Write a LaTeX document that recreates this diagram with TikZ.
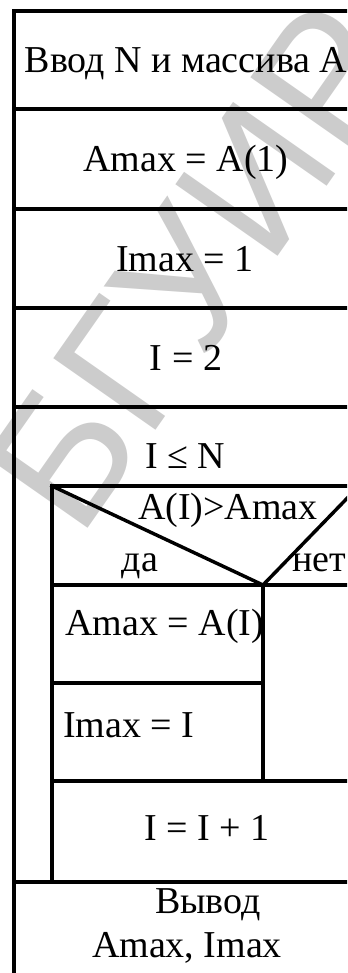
\documentclass[tikz,border=0pt]{standalone}
\usepackage{fontspec}
\setmainfont{Liberation Serif}
\newfontfamily\wmfont{Liberation Sans}
\usetikzlibrary{positioning}

\begin{document}
\begin{tikzpicture}[x=0.75pt, y=-0.75pt]
  \tikzstyle{txt} = [inner sep=0pt, anchor=base, font=\fontsize{28.5}{34}\selectfont]
  \tikzstyle{rule} = [line width=2.6pt, line cap=rect]
  \useasboundingbox (0,0) rectangle (347,973);
  \clip (0,0) rectangle (347,973);
  % watermark
  \node[rotate=55, text=black!20, inner sep=0pt,
        font=\wmfont\fontsize{136}{140}\selectfont] (wm) at (196,266) {БГУИР};
  % frame of the diagram
  \draw[rule] (14,11) -- (359,11);
  \foreach \y in {109,209,308,407,882}
    \draw[rule] (14,\y) -- (359,\y);
  \foreach \y in {486,585,781}
    \draw[rule] (52,\y) -- (359,\y);
  \draw[rule] (52,683) -- (263,683);
  \draw[rule] (14,11) -- (14,990);
  \draw[rule] (52,486) -- (52,882);
  \draw[rule] (263,585) -- (263,781);
  \draw[rule, line join=miter] (52,486) -- (263,585) -- (359,486);
  % texts
  \node[txt] (input) at (186,73) {Ввод N и массива A};
  \node[txt] (amax) at (186,172) {Amax = A(1)};
  \node[txt] (imax) at (185,272) {Imax = 1};
  \node[txt] (init) at (186,370) {I = 2};
  \node[txt] (loop) at (185,468) {I ≤ N};
  \node[txt] (cond) at (228,519) {A(I)>Amax};
  \node[txt] (yes) at (140,571) {да};
  \node[txt] (no) at (319,571) {нет};
  \node[txt, anchor=base west] (setamax) at (65,635) {Amax = A(I)};
  \node[txt, anchor=base west] (setimax) at (63,737) {Imax = I};
  \node[txt] (incr) at (207,840) {I = I + 1};
  \node[txt] (out) at (208,913) {Вывод};
  \node[txt] (outvals) at (187,957) {Amax, Imax};
\end{tikzpicture}
\end{document}
